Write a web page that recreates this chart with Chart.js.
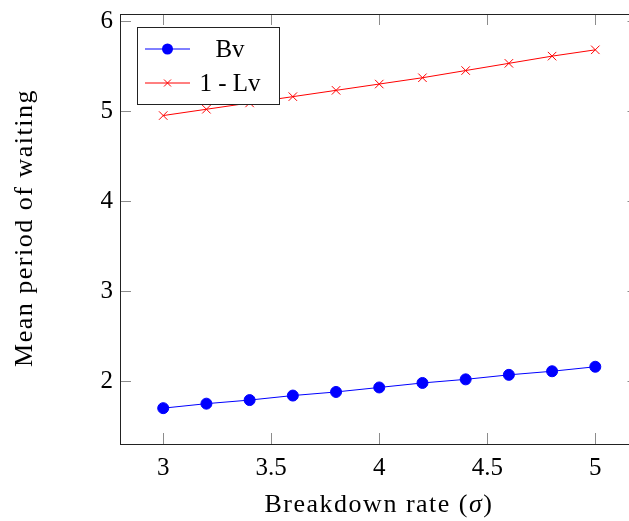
<!DOCTYPE html>
<html>
<head>
<meta charset="utf-8">
<script src="https://cdn.jsdelivr.net/npm/chart.js@4/dist/chart.umd.min.js"></script>
<style>
  html, body { margin: 0; padding: 0; background: #fff; overflow: hidden; }
  #wrap { width: 629px; height: 521px; overflow: hidden; }
  canvas { display: block; }
</style>
</head>
<body>
<div id="wrap"><canvas id="c" width="640" height="521"></canvas></div>
<script>
// Breakdown rate (sigma) sampled from 3 to 5
const sigma = [3.0, 3.2, 3.4, 3.6, 3.8, 4.0, 4.2, 4.4, 4.6, 4.8, 5.0];
// Mean period of waiting for each series
const bv = [1.70, 1.75, 1.79, 1.84, 1.88, 1.93, 1.98, 2.02, 2.07, 2.11, 2.16];
const oneMinusLv = [4.95, 5.02, 5.09, 5.16, 5.23, 5.30, 5.37, 5.45, 5.53, 5.61, 5.68];
// Axis tick labels
const xTicks = [3, 3.5, 4, 4.5, 5];
const yTicks = [2, 3, 4, 5, 6];
const seriesLabels = ['Bv', '1 - Lv'];

const FONT = '"Liberation Serif", "Times New Roman", serif';

// axis limits padded by 10% of the data range on each side
function padded(vals) {
  const lo = Math.min(...vals), hi = Math.max(...vals), r = hi - lo;
  return [lo - 0.1 * r, hi + 0.1 * r];
}
const [xMin, xMax] = padded(sigma);
const [yMin, yMax] = padded(bv.concat(oneMinusLv));

// draws text pieces in sequence, centred on cx; pieces may be italic
function drawPieces(ctx, pieces, cx, y, size, spacing) {
  ctx.letterSpacing = spacing + 'px';
  let total = 0;
  pieces.forEach(p => {
    ctx.font = (p.italic ? 'italic ' : '') + size + 'px ' + FONT;
    p.w = ctx.measureText(p.t).width;
    total += p.w;
  });
  let x = cx - total / 2;
  ctx.textAlign = 'left';
  pieces.forEach(p => {
    ctx.font = (p.italic ? 'italic ' : '') + size + 'px ' + FONT;
    ctx.fillText(p.t, x, y);
    x += p.w;
  });
  ctx.letterSpacing = '0px';
}

// frame, inward tick marks, axis titles and boxed legend
const framePlugin = {
  id: 'frame',
  afterDatasetsDraw(chart) {
    const { ctx, chartArea: a, scales } = chart;
    const L = 11;
    ctx.save();
    ctx.strokeStyle = '#8c8c8c';
    ctx.lineWidth = 1;
    ctx.beginPath();
    xTicks.forEach(v => {
      const px = Math.round(scales.x.getPixelForValue(v)) + 0.5;
      ctx.moveTo(px, a.bottom); ctx.lineTo(px, a.bottom - L);
      ctx.moveTo(px, a.top); ctx.lineTo(px, a.top + L);
    });
    yTicks.forEach(v => {
      const py = Math.round(scales.y.getPixelForValue(v)) + 0.5;
      ctx.moveTo(a.left, py); ctx.lineTo(a.left + L, py);
      ctx.moveTo(a.right, py); ctx.lineTo(a.right - L, py);
    });
    ctx.stroke();
    ctx.strokeStyle = '#222';
    ctx.strokeRect(Math.round(a.left) + 0.5, Math.round(a.top) + 0.5,
                   Math.round(a.right - a.left), Math.round(a.bottom - a.top));

    // axis titles
    ctx.fillStyle = '#000';
    ctx.textBaseline = 'alphabetic';
    drawPieces(ctx, [{ t: 'Breakdown rate (' }, { t: 'σ', italic: true }, { t: ')' }],
               379, 512, 26, 1.5);
    ctx.save();
    ctx.translate(32, 228);
    ctx.rotate(-Math.PI / 2);
    drawPieces(ctx, [{ t: 'Mean period of waiting' }], 0, 0, 26, 1.5);
    ctx.restore();

    // legend
    const bx = 137.5, by = 27.5, bw = 142, bh = 77;
    ctx.fillStyle = '#fff';
    ctx.fillRect(bx, by, bw, bh);
    ctx.strokeStyle = '#222';
    ctx.strokeRect(bx, by, bw, bh);
    const rows = [49, 83];
    chart.data.datasets.forEach((ds, i) => {
      const y = rows[i];
      ctx.strokeStyle = ds.borderColor;
      ctx.lineWidth = 1;
      ctx.beginPath();
      ctx.moveTo(145, y); ctx.lineTo(190, y);
      ctx.stroke();
      const mx = 167.5;
      if (ds.pointStyle === 'circle') {
        ctx.fillStyle = ds.pointBackgroundColor;
        ctx.beginPath();
        ctx.arc(mx, y, ds.pointRadius, 0, Math.PI * 2);
        ctx.fill();
      } else {
        const d = 3.5;
        ctx.beginPath();
        ctx.moveTo(mx - d, y - d); ctx.lineTo(mx + d, y + d);
        ctx.moveTo(mx - d, y + d); ctx.lineTo(mx + d, y - d);
        ctx.stroke();
      }
      ctx.fillStyle = '#000';
      drawPieces(ctx, [{ t: ds.label }], 230, y + 8, 25, 0);
    });
    ctx.restore();
  }
};

new Chart(document.getElementById('c'), {
  type: 'line',
  data: {
    datasets: [
      {
        label: seriesLabels[0],
        data: sigma.map((s, i) => ({ x: s, y: bv[i] })),
        borderColor: '#0000ff',
        backgroundColor: '#0000ff',
        pointBackgroundColor: '#0000ff',
        pointBorderColor: '#0000ff',
        pointStyle: 'circle',
        pointRadius: 5.5,
        borderWidth: 1,
        tension: 0
      },
      {
        label: seriesLabels[1],
        data: sigma.map((s, i) => ({ x: s, y: oneMinusLv[i] })),
        borderColor: '#ff0000',
        backgroundColor: '#ff0000',
        pointBackgroundColor: '#ff0000',
        pointBorderColor: '#ff0000',
        pointStyle: 'crossRot',
        pointRadius: 6,
        pointBorderWidth: 1,
        borderWidth: 1,
        tension: 0
      }
    ]
  },
  options: {
    responsive: false,
    animation: false,
    events: [],
    // the plot box runs slightly past the visible right edge
    layout: { autoPadding: false, padding: { top: 14, right: 1.5, left: 0, bottom: 0 } },
    plugins: { legend: { display: false }, tooltip: { enabled: false } },
    scales: {
      x: {
        type: 'linear',
        min: xMin, max: xMax,
        afterFit(s) { s.height = 77; s.paddingLeft = 0; s.paddingRight = 0; },
        afterBuildTicks(s) { s.ticks = xTicks.map(v => ({ value: v })); },
        grid: { display: false, drawTicks: false },
        border: { display: false },
        ticks: {
          padding: 9,
          color: '#000',
          font: { family: FONT, size: 25 },
          callback: v => String(v)
        },
        title: { display: false }
      },
      y: {
        type: 'linear',
        min: yMin, max: yMax,
        afterFit(s) { s.width = 120; s.paddingTop = 0; s.paddingBottom = 0; },
        afterBuildTicks(s) { s.ticks = yTicks.map(v => ({ value: v })); },
        grid: { display: false, drawTicks: false },
        border: { display: false },
        ticks: {
          padding: 7,
          color: '#000',
          font: { family: FONT, size: 25 },
          callback: v => String(v)
        },
        title: { display: false }
      }
    }
  },
  plugins: [framePlugin]
});
</script>
</body>
</html>
